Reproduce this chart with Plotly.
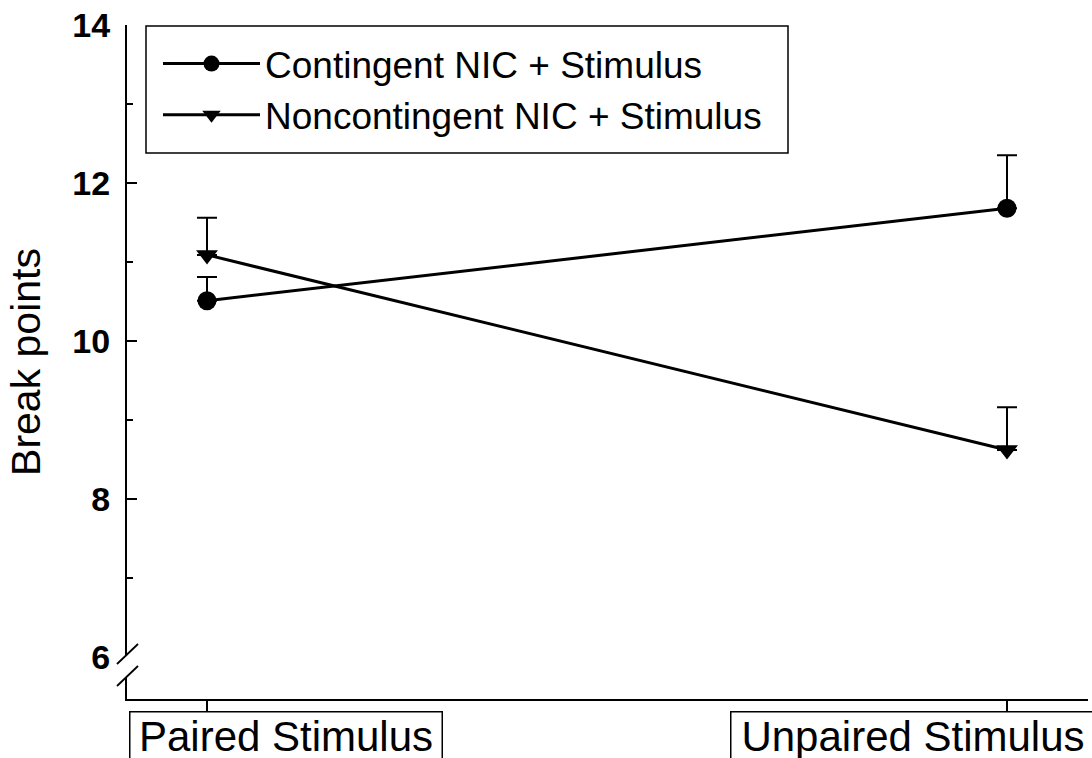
import plotly.graph_objects as go

categories = ["Paired Stimulus", "Unpaired Stimulus"]
series_names = ["Contingent NIC + Stimulus", "Noncontingent NIC + Stimulus"]
contingent_mean = [10.51, 11.68]
contingent_err = [0.30, 0.67]
noncontingent_mean = [11.09, 8.62]
noncontingent_err = [0.47, 0.54]
y_tickvals = [6, 8, 10, 12, 14]
y_minor_tickvals = [7, 9, 11, 13]

W, H = 1092, 758
ML, MR, MT, MB = 127, 4, 25, 59
PW, PH = W - ML - MR, H - MT - MB

def px(x):
    return (x - ML) / PW

def py(y):
    return (H - MB - y) / PH

xpos = list(range(len(categories)))
FONT = "Arial, Liberation Sans, sans-serif"

fig = go.Figure()
fig.add_trace(go.Scatter(
    x=xpos, y=contingent_mean, name=series_names[0], mode="lines+markers",
    line=dict(color="black", width=3),
    marker=dict(symbol="circle", size=19, color="black"),
    error_y=dict(type="data", symmetric=False, array=contingent_err,
                 arrayminus=[0] * len(contingent_err), color="black",
                 thickness=2, width=10),
))
fig.add_trace(go.Scatter(
    x=xpos, y=noncontingent_mean, name=series_names[1], mode="lines+markers",
    line=dict(color="black", width=3),
    marker=dict(symbol="triangle-down", size=19, color="black"),
    error_y=dict(type="data", symmetric=False, array=noncontingent_err,
                 arrayminus=[0] * len(noncontingent_err), color="black",
                 thickness=2, width=10),
))

shapes = [
    # legend frame
    dict(type="rect", xref="paper", yref="paper", x0=px(146), x1=px(788),
         y0=py(153), y1=py(26), line=dict(color="black", width=1.5)),
    # axis break gap
    dict(type="rect", xref="paper", yref="paper", x0=px(119), x1=px(139),
         y0=py(677), y1=py(655), line=dict(width=0), fillcolor="white"),
    dict(type="line", xref="paper", yref="paper", x0=px(117), x1=px(138),
         y0=py(664), y1=py(644), line=dict(color="black", width=1.8)),
    dict(type="line", xref="paper", yref="paper", x0=px(117), x1=px(138),
         y0=py(686), y1=py(666), line=dict(color="black", width=1.8)),
]

label_specs = [dict(shift=78.5, width=311), dict(shift=-94.5, width=363)]
annotations = []
for i, cat in enumerate(categories):
    annotations.append(dict(
        x=xpos[i], xref="x", y=py(711), yref="paper", yanchor="top",
        xanchor="center", xshift=label_specs[i]["shift"], text=cat,
        showarrow=False, font=dict(family=FONT, size=42, color="black"),
        bordercolor="black", borderwidth=1.5, borderpad=0,
        width=label_specs[i]["width"], height=60, valign="top",
    ))

fig.update_layout(
    width=W, height=H,
    margin=dict(l=ML, r=MR, t=MT, b=MB, pad=0),
    paper_bgcolor="white", plot_bgcolor="white",
    font=dict(family=FONT, color="black"),
    showlegend=True,
    legend=dict(x=px(158), y=py(33), xanchor="left", yanchor="top",
                bgcolor="rgba(0,0,0,0)", borderwidth=0,
                font=dict(family=FONT, size=37, color="black"),
                itemwidth=97, tracegroupgap=0),
    shapes=shapes, annotations=annotations,
    xaxis=dict(range=[-0.1, 1.10125], tickvals=xpos, showticklabels=False,
               ticks="outside", ticklen=10, tickwidth=2, tickcolor="black",
               showline=True, linewidth=2, linecolor="black",
               showgrid=False, zeroline=False),
    yaxis=dict(range=[14 - PH / 79.0, 14], tickvals=y_tickvals,
               ticks="inside", ticklen=10, tickwidth=2, tickcolor="black",
               minor=dict(tickvals=y_minor_tickvals, ticks="inside",
                          ticklen=6, tickwidth=2, tickcolor="black"),
               tickfont=dict(family=FONT, size=34, color="black", weight="bold"),
               ticklabelstandoff=8,
               showline=True, linewidth=2, linecolor="black",
               showgrid=False, zeroline=False,
               title=dict(text="Break points", standoff=19,
                          font=dict(family=FONT, size=41, color="black"))),
)

fig.write_html("out.html")
